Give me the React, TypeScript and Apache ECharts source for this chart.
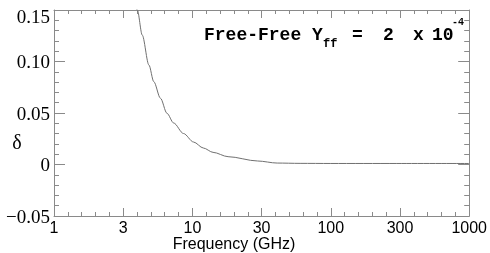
import React, { useEffect, useRef } from "react";
import * as echarts from "echarts";

// Frequency in GHz and the resulting delta
const freqGHz = [3.5, 4.0, 4.34, 4.85, 5.26, 5.88, 6.55, 7.32, 8.62, 10.2, 12.0, 14.1, 18.1, 29.6, 41, 60, 100, 300, 1000];
const deltaValues = [0.197, 0.15, 0.1257, 0.0966, 0.0804, 0.0643, 0.0497, 0.0403, 0.0301, 0.0218, 0.016, 0.0118, 0.0076, 0.0034, 0.0014, 0.0011, 0.001, 0.001, 0.001];

// x tick labels at log10 positions 0, 0.5, 1, ... 3
const xTickLabels = ["1", "3", "10", "30", "100", "300", "1000"];
const yTickLabels: Record<string, string> = {
  "0.15": "0.15",
  "0.1": "0.10",
  "0.05": "0.05",
  "0": "0",
  "-0.05": "\u22120.05",
};

const AXIS = "#8a8a8a";

export default function App() {
  const ref = useRef<HTMLDivElement>(null);
  useEffect(() => {
    if (!ref.current) return;
    const chart = echarts.init(ref.current, undefined, { renderer: "svg" });
    const mono = '"Liberation Mono", monospace';
    const xCommon = {
      type: "value" as const,
      min: 0,
      max: 3,
      interval: 0.5,
      axisLine: { show: true, onZero: false, lineStyle: { color: AXIS, width: 1 } },
      axisTick: { show: true, inside: true, length: 8, lineStyle: { color: AXIS } },
      minorTick: { show: true, splitNumber: 5, length: 4, lineStyle: { color: AXIS } },
      splitLine: { show: false },
      minorSplitLine: { show: false },
    };
    const yCommon = {
      type: "value" as const,
      min: -0.05,
      max: 0.15,
      interval: 0.05,
      axisLine: { show: true, onZero: false, lineStyle: { color: AXIS, width: 1 } },
      axisTick: { show: true, inside: true, length: 11, lineStyle: { color: AXIS } },
      minorTick: { show: true, splitNumber: 5, length: 5, lineStyle: { color: AXIS } },
      splitLine: { show: false },
      minorSplitLine: { show: false },
    };
    chart.setOption({
      animation: false,
      grid: { left: 54, right: 16, top: 10, bottom: 37, containLabel: false },
      xAxis: [
        {
          ...xCommon,
          position: "bottom",
          axisLabel: {
            show: true,
            margin: 4,
            color: "#000",
            fontFamily: '"Liberation Sans", Arial, sans-serif',
            fontSize: 16,
            lineHeight: 14,
            formatter: (v: number) => xTickLabels[Math.round(v * 2)] ?? "",
          },
        },
        { ...xCommon, position: "top", axisLabel: { show: false } },
      ],
      yAxis: [
        {
          ...yCommon,
          position: "left",
          axisLabel: {
            show: true,
            margin: 4,
            color: "#000",
            fontFamily: '"Liberation Serif", "Times New Roman", serif',
            fontSize: 19,
            formatter: (v: number) => {
              const key = String(Math.round(v * 100) / 100);
              const t = yTickLabels[key] ?? "";
              return key === "0.15" ? "{top|" + t + "}" : t;
            },
            rich: {
              top: {
                fontFamily: '"Liberation Serif", "Times New Roman", serif',
                fontSize: 19,
                color: "#000",
                padding: [12, 0, 0, 0],
              },
            },
          },
        },
        { ...yCommon, position: "right", axisLabel: { show: false } },
      ],
      series: [
        {
          type: "line",
          xAxisIndex: 0,
          yAxisIndex: 0,
          data: freqGHz.map((f, i) => [Math.log10(f), deltaValues[i]]),
          showSymbol: false,
          smooth: 0.3,
          smoothMonotone: "x",
          clip: true,
          lineStyle: { color: "#707070", width: 1 },
        },
      ],
      graphic: [
        {
          type: "text",
          x: 234,
          y: 243,
          style: {
            text: "Frequency (GHz)",
            font: '16px "Liberation Sans", Arial, sans-serif',
            fill: "#000",
            align: "center",
            verticalAlign: "middle",
          },
        },
        {
          type: "text",
          x: 17,
          y: 142,
          style: {
            text: "\u03b4",
            font: '20px "Liberation Serif", serif',
            fill: "#000",
            align: "center",
            verticalAlign: "middle",
          },
        },
        { type: "text", x: 204, y: 35, style: { text: "Free-Free Y", font: "bold 18px " + mono, fill: "#000", verticalAlign: "middle" } },
        { type: "text", x: 323, y: 44, style: { text: "ff", font: "bold 12px " + mono, fill: "#000", verticalAlign: "middle" } },
        { type: "text", x: 352, y: 35, style: { text: "=", font: "bold 18px " + mono, fill: "#000", verticalAlign: "middle" } },
        { type: "text", x: 383, y: 35, style: { text: "2", font: "bold 18px " + mono, fill: "#000", verticalAlign: "middle" } },
        { type: "text", x: 413, y: 35, style: { text: "x", font: "bold 18px " + mono, fill: "#000", verticalAlign: "middle" } },
        { type: "text", x: 432, y: 35, style: { text: "10", font: "bold 18px " + mono, fill: "#000", verticalAlign: "middle" } },
        { type: "text", x: 452, y: 22, style: { text: "-4", font: "bold 10px " + mono, fill: "#000", verticalAlign: "middle" } },
      ],
    });
    return () => chart.dispose();
  }, []);
  return <div ref={ref} style={{ position: "fixed", left: 0, top: 0, width: 490, height: 253 }} />;
}
